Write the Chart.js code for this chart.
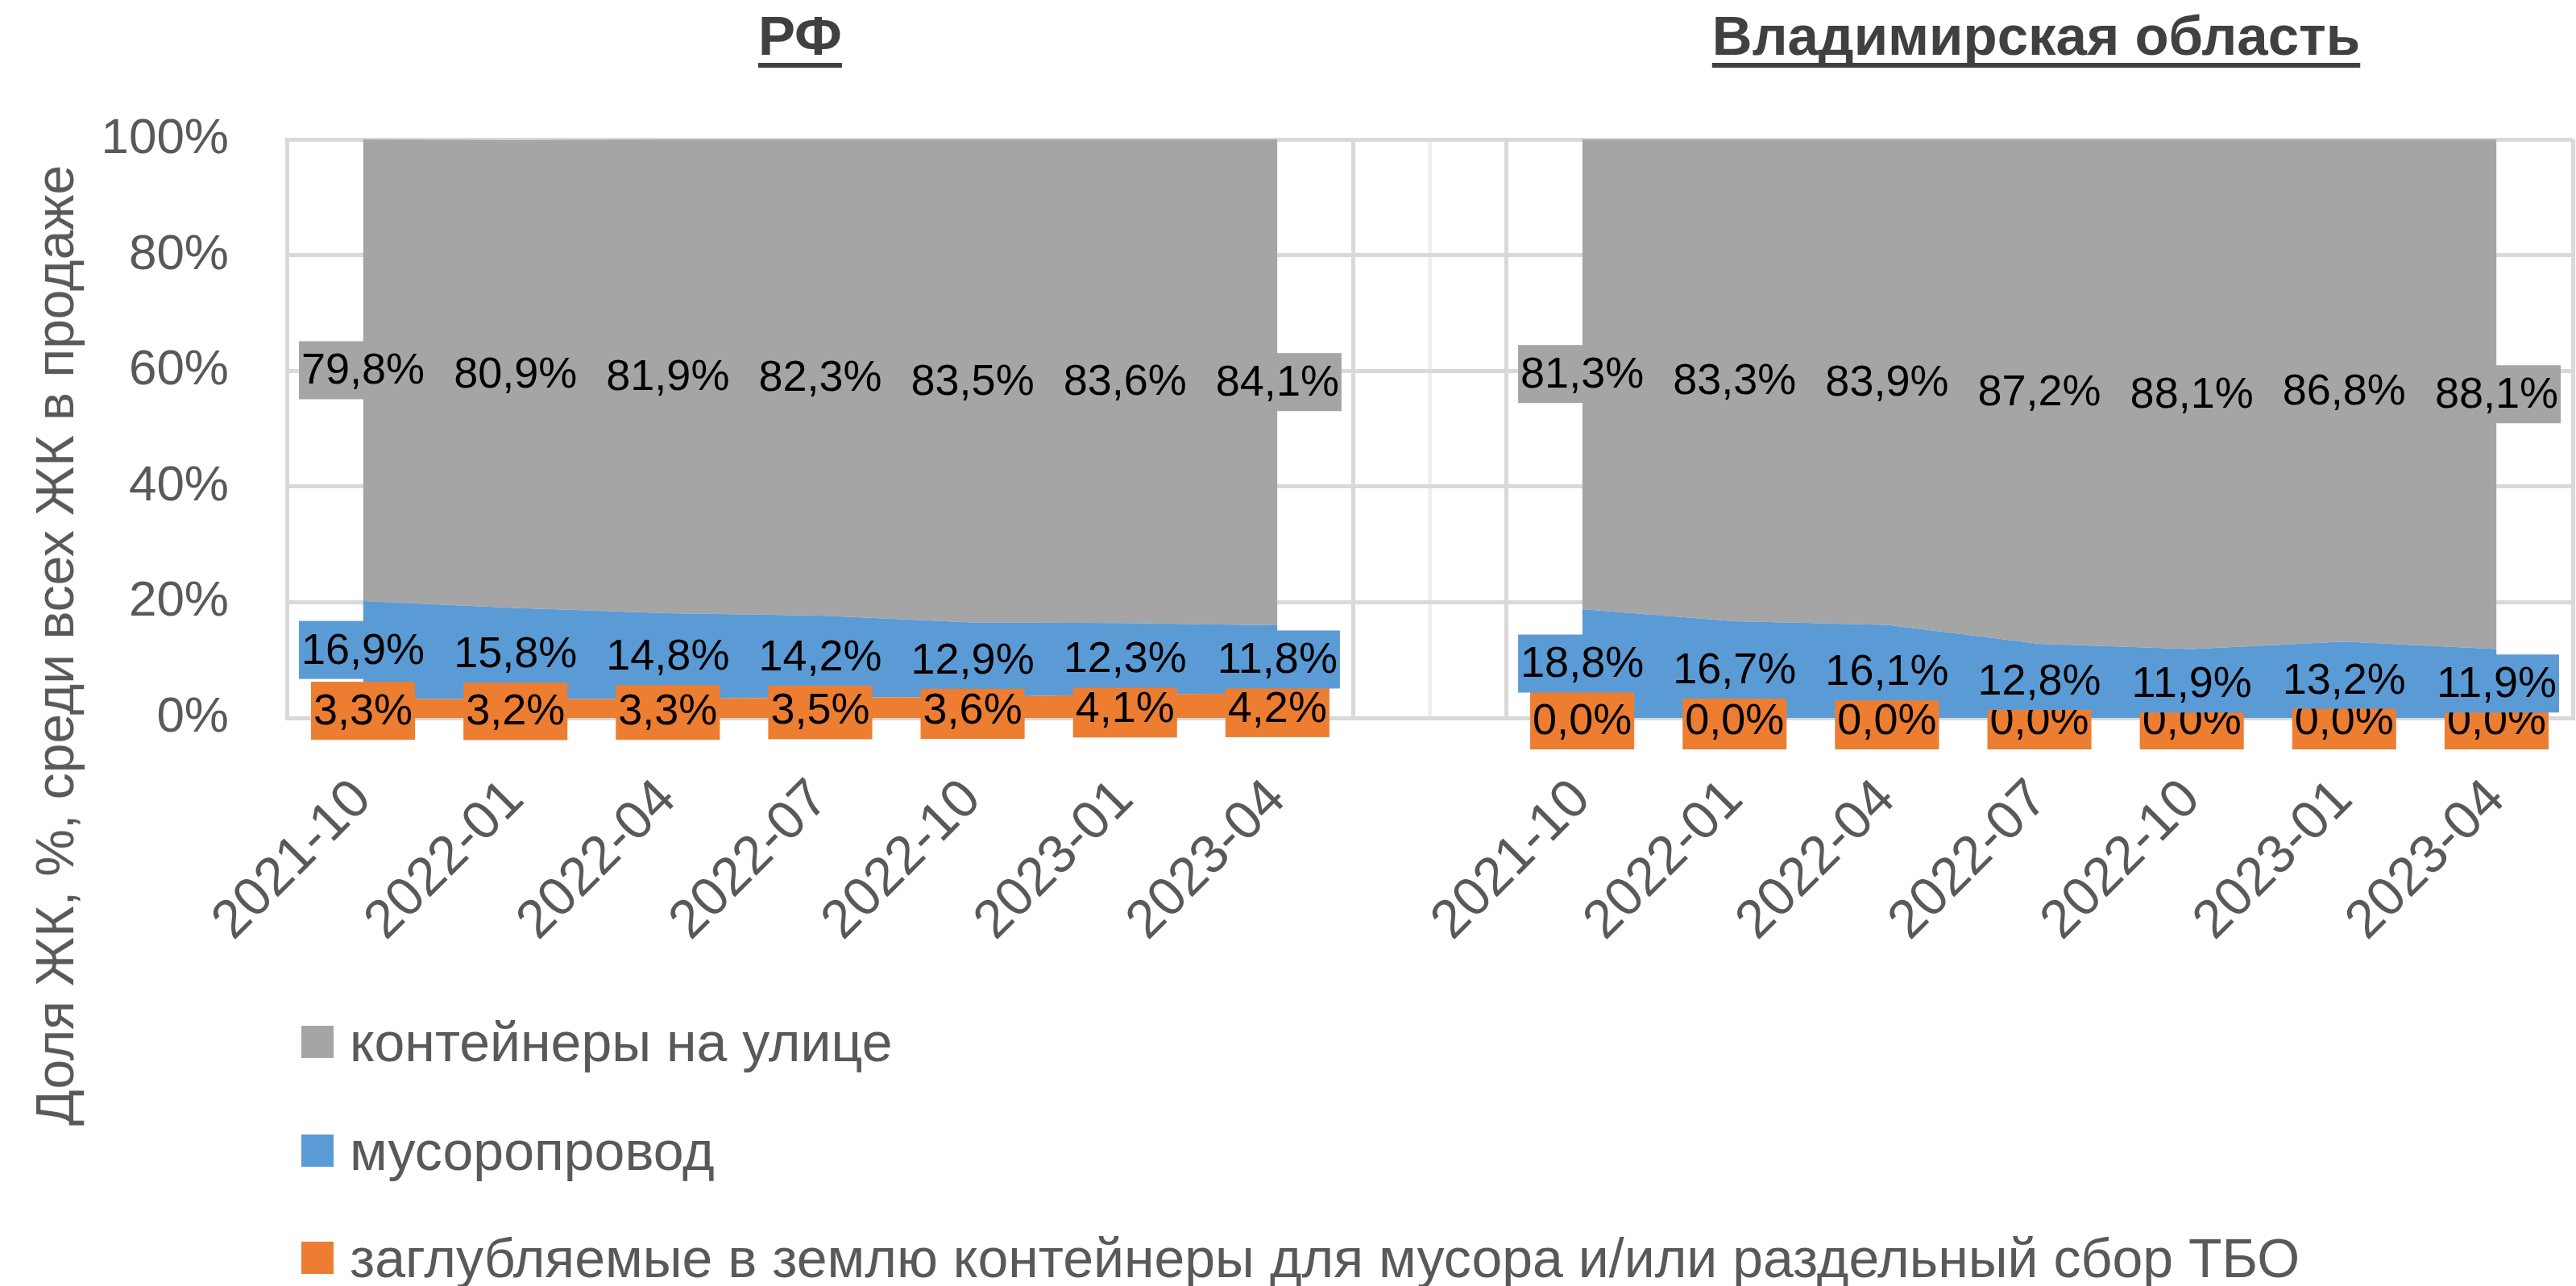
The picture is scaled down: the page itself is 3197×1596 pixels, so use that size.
<!DOCTYPE html>
<html><head><meta charset="utf-8">
<script src="https://cdn.jsdelivr.net/npm/chart.js@4.4.1/dist/chart.umd.min.js"></script>
<style>
html,body{margin:0;padding:0;background:#fff;}
#wrap{position:relative;width:3197px;height:1596px;overflow:hidden;font-family:'Liberation Sans',Arial,sans-serif;}
#c{position:absolute;left:0;top:0;}
.ptitle{position:absolute;top:10px;transform:translateX(-50%);font-weight:bold;font-size:69px;line-height:1;color:#404040;white-space:nowrap;text-decoration:underline;text-decoration-thickness:6px;text-underline-offset:10px;text-decoration-skip-ink:none;}
#ytitle{position:absolute;left:68px;top:801px;transform:translate(-50%,-50%) rotate(-90deg);font-size:66px;line-height:1;color:#595959;white-space:nowrap;}
.li{position:absolute;left:374px;display:flex;align-items:center;white-space:nowrap;font-size:68px;color:#595959;line-height:1;transform:translateY(-50%);}
.sw{width:40px;height:40px;margin-right:20px;flex:none;}
</style></head>
<body><div id="wrap"><canvas id="c" width="3197" height="1596" style="width:3197px;height:1596px"></canvas></div>
<script>
// ---- data ----
const categories = ['2021-10','2022-01','2022-04','2022-07','2022-10','2023-01','2023-04','',
                    '2021-10','2022-01','2022-04','2022-07','2022-10','2023-01','2023-04'];
const seriesNames = ['заглубляемые в землю контейнеры для мусора и/или раздельный сбор ТБО','мусоропровод','контейнеры на улице'];
const groundValues = [3.3,3.2,3.3,3.5,3.6,4.1,4.2,null,0.0,0.0,0.0,0.0,0.0,0.0,0.0];
const chuteValues  = [16.9,15.8,14.8,14.2,12.9,12.3,11.8,null,18.8,16.7,16.1,12.8,11.9,13.2,11.9];
const streetValues = [79.8,80.9,81.9,82.3,83.5,83.6,84.1,null,81.3,83.3,83.9,87.2,88.1,86.8,88.1];
const yTickValues = [0,20,40,60,80,100];
const panelTitles = ['РФ','Владимирская область'];
const yAxisTitle = 'Доля ЖК, %, среди всех ЖК в продаже';

// ---- styles ----
const colors = ['#ED7D31','#5B9BD5','#A5A5A5'];
const FONT = "'Liberation Sans', Arial, sans-serif";
const fmt = v => v.toFixed(1).replace('.', ',') + '%';

const labelPlugin = {
  id: 'bandLabels',
  afterDatasetsDraw(chart) {
    const ctx = chart.ctx, ys = chart.scales.y;
    ctx.save();
    ctx.font = '54px ' + FONT;
    ctx.textAlign = 'center'; ctx.textBaseline = 'middle';
    chart.data.datasets.forEach((ds, i) => {
      const meta = chart.getDatasetMeta(i);
      meta.data.forEach((pt, j) => {
        const v = ds.data[j];
        if (v === null || v === undefined) return;
        const top = pt.y;
        const base = i === 0 ? ys.getPixelForValue(0) : chart.getDatasetMeta(i - 1).data[j].y;
        const cy = (top + base) / 2 + (i === 0 ? 3 : 0);
        const txt = fmt(v);
        const w = ctx.measureText(txt).width + 6, h = 72;
        ctx.fillStyle = ds.backgroundColor;
        ctx.fillRect(pt.x - w / 2, cy - h / 2, w, h);
        ctx.fillStyle = '#000';
        ctx.fillText(txt, pt.x, cy + 2);
      });
    });
    ctx.restore();
  }
};

const valueSets = [groundValues, chuteValues, streetValues];
const datasets = valueSets.map((vals, i) => ({
  label: seriesNames[i],
  data: vals,
  backgroundColor: colors[i],
  borderColor: colors[i],
  borderWidth: 0,
  pointRadius: 0,
  pointHoverRadius: 0,
  tension: 0,
  fill: i === 0 ? 'origin' : '-1',
  spanGaps: false
}));

const chart = new Chart(document.getElementById('c'), {
  type: 'line',
  data: { labels: categories, datasets },
  options: {
    responsive: false, animation: false, devicePixelRatio: 1,
    layout: { padding: { top: 173, left: 0, right: 4, bottom: 0 } },
    plugins: { legend: { display: false }, tooltip: { enabled: false }, title: { display: false } },
    scales: {
      x: {
        type: 'category', offset: true, position: 'bottom',
        grid: { offset: true, color: '#D9D9D9', lineWidth: 5, drawTicks: false },
        border: { display: true, color: '#D9D9D9', width: 5 },
        ticks: { autoSkip: false, maxRotation: 45, minRotation: 45, padding: 62, color: '#595959', font: { size: 67, family: FONT } },
        afterFit: s => { s.height = 705; s.paddingLeft = 0; s.paddingRight = 0; }
      },
      x2: {
        type: 'category', offset: true, position: 'bottom',
        grid: { offset: false, lineWidth: 5, drawTicks: false, color: c => c.index === 7 ? '#EFEFEF' : 'rgba(0,0,0,0)' },
        border: { display: false },
        ticks: { display: false },
        afterFit: s => { s.height = 0; s.paddingLeft = 0; s.paddingRight = 0; }
      },
      y: {
        stacked: true, min: 0, max: 100,
        afterBuildTicks: s => { s.ticks = yTickValues.map(v => ({ value: v })); },
        grid: { color: '#D9D9D9', lineWidth: 5, drawTicks: false },
        border: { display: true, color: '#D9D9D9', width: 5 },
        ticks: { padding: 72, color: '#595959', font: { size: 62, family: FONT }, callback: v => v + '%' },
        afterFit: s => { s.width = 356; s.paddingTop = 0; s.paddingBottom = 0; }
      }
    }
  },
  plugins: [labelPlugin]
});

// ---- HTML titles / legend ----
const wrap = document.getElementById('wrap');
const xs = chart.scales.x;
const titleCenters = [xs.getPixelForValue(3) - 25, xs.getPixelForValue(11) - 4];
panelTitles.forEach((t, k) => {
  const d = document.createElement('div');
  d.className = 'ptitle'; d.textContent = t; d.style.left = titleCenters[k] + 'px';
  wrap.appendChild(d);
});
const yt = document.createElement('div');
yt.id = 'ytitle'; yt.textContent = yAxisTitle; wrap.appendChild(yt);
const legendCenters = [1293, 1428, 1561];
chart.data.datasets.slice().reverse().forEach((ds, k) => {
  const row = document.createElement('div');
  row.className = 'li'; row.style.top = legendCenters[k] + 'px';
  const sw = document.createElement('span'); sw.className = 'sw'; sw.style.background = ds.backgroundColor;
  const tx = document.createElement('span'); tx.textContent = ds.label;
  row.appendChild(sw); row.appendChild(tx); wrap.appendChild(row);
});
</script></body></html>
